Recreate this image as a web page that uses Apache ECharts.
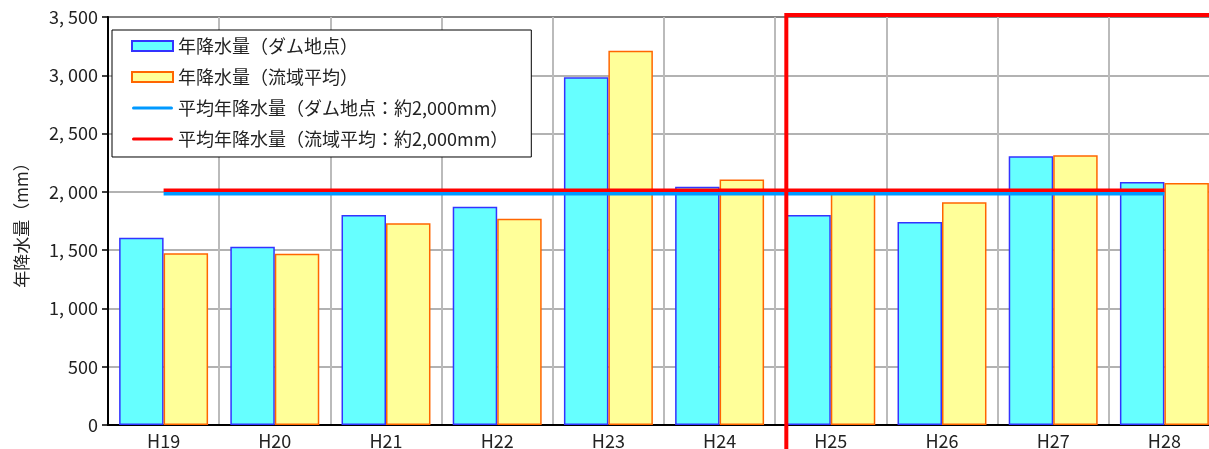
<!DOCTYPE html>
<html><head><meta charset="utf-8">
<script src="https://cdn.jsdelivr.net/npm/echarts@6/dist/echarts.min.js"></script>
<style>html,body{margin:0;padding:0;background:#fff}#c{width:1209px;height:449px}</style>
</head><body><div id="c"></div>
<script>
const categories = ['H19','H20','H21','H22','H23','H24','H25','H26','H27','H28'];
const damRain = [1607, 1530, 1801, 1873, 2983, 2044, 1801, 1741, 2305, 2085];
const basinRain = [1473, 1470, 1730, 1770, 3211, 2105, 2025, 1910, 2314, 2076];
const damAvg = [1984, 1984, 1984, 1984, 1984, 1984, 1984, 1984, 1984, 1984];
const basinAvg = [2013, 2013, 2013, 2013, 2013, 2013, 2013, 2013, 2013, 2013];
const yTicks = [0, 500, 1000, 1500, 2000, 2500, 3000, 3500];
const names = ['年降水量（ダム地点）', '年降水量（流域平均）', '平均年降水量（ダム地点：約2,000mm）', '平均年降水量（流域平均：約2,000mm）'];
const highlightFrom = 'H25';

const FONT = '"Noto Sans CJK JP", sans-serif';
const chart = echarts.init(document.getElementById('c'));
chart.setOption({
  animation: false,
  textStyle: {fontFamily: FONT},
  grid: {left: 108, top: 17, width: 1112, bottom: 24, outerBoundsMode: 'none', containLabel: false,
    show: true, borderColor: '#000', borderWidth: 1.5, backgroundColor: 'transparent'},
  legend: {
    orient: 'vertical', left: 112, top: 30,
    backgroundColor: '#fff', borderColor: '#000', borderWidth: 1,
    padding: [7, 23, 9, 19], itemWidth: 41, itemHeight: 10, itemGap: 13,
    textStyle: {fontSize: 18, color: '#222', fontFamily: FONT},
    data: [
      {name: names[0], icon: 'rect'},
      {name: names[1], icon: 'rect'},
      {name: names[2], icon: 'path://M0,0 M41,10 M1.5,3.5 L39.5,3.5 A1.5,1.5 0 0 1 39.5,6.5 L1.5,6.5 A1.5,1.5 0 0 1 1.5,3.5 Z', itemStyle: {color: '#0099FF', borderWidth: 0}},
      {name: names[3], icon: 'path://M0,0 M41,10 M1.5,3.5 L39.5,3.5 A1.5,1.5 0 0 1 39.5,6.5 L1.5,6.5 A1.5,1.5 0 0 1 1.5,3.5 Z', itemStyle: {color: '#FF0000', borderWidth: 0}}
    ]
  },
  xAxis: {
    type: 'category', data: categories,
    axisLine: {lineStyle: {color: '#000', width: 2}},
    axisTick: {length: 5, lineStyle: {color: '#000', width: 2}},
    axisLabel: {fontSize: 18, color: '#222', margin: 7, fontFamily: FONT},
    splitLine: {show: true, lineStyle: {color: '#BBBBBB', width: 2}}
  },
  yAxis: {
    type: 'value', min: 0, max: 3500, interval: 500,
    name: '年降水量（mm）', nameLocation: 'middle', nameGap: 78,
    nameTextStyle: {fontSize: 17, color: '#222', fontFamily: FONT},
    axisLine: {show: true, lineStyle: {color: '#000', width: 2}},
    axisTick: {show: true, length: 6, lineStyle: {color: '#000', width: 1.5}},
    axisLabel: {fontSize: 18, color: '#222', margin: 10, fontFamily: FONT,
      formatter: v => yTicks.indexOf(v) >= 0 ? (v >= 1000 ? Math.floor(v/1000) + ', ' + String(v%1000).padStart(3,'0') : String(v)) : ''},
    splitLine: {show: true, lineStyle: {color: '#999999', width: 1.5}}
  },
  series: [
    {name: names[0], type: 'bar', data: damRain, barGap: '0%', barCategoryGap: '20%',
      itemStyle: {color: '#66FFFF', borderColor: '#3333FF', borderWidth: 1.5}},
    {name: names[1], type: 'bar', data: basinRain,
      itemStyle: {color: '#FFFF99', borderColor: '#FF6600', borderWidth: 1.5}},
    {name: names[2], type: 'line', data: damAvg, symbol: 'none', z: 5,
      lineStyle: {color: '#0099FF', width: 3.5}, itemStyle: {color: '#0099FF'}},
    {name: names[3], type: 'line', data: basinAvg, symbol: 'none', z: 6,
      lineStyle: {color: '#FF0000', width: 3.5}, itemStyle: {color: '#FF0000'}}
  ]
});

// highlight frame starting at left edge of the first bar of highlightFrom
const cx = chart.convertToPixel({xAxisIndex: 0}, highlightFrom);
const cx2 = chart.convertToPixel({xAxisIndex: 0}, categories[categories.indexOf(highlightFrom) + 1]);
const band = cx2 - cx;
const xLeft = cx - band * 0.4;
const yTop = chart.convertToPixel({yAxisIndex: 0}, 3500) - 2;
const W = chart.getWidth(), H = chart.getHeight();
chart.setOption({
  graphic: [
    {type: 'line', z: 100, shape: {x1: xLeft, y1: yTop - 2, x2: xLeft, y2: H}, style: {stroke: '#FF0000', lineWidth: 4}},
    {type: 'line', z: 100, shape: {x1: xLeft, y1: yTop, x2: W, y2: yTop}, style: {stroke: '#FF0000', lineWidth: 4}}
  ]
});
</script>
</body></html>
